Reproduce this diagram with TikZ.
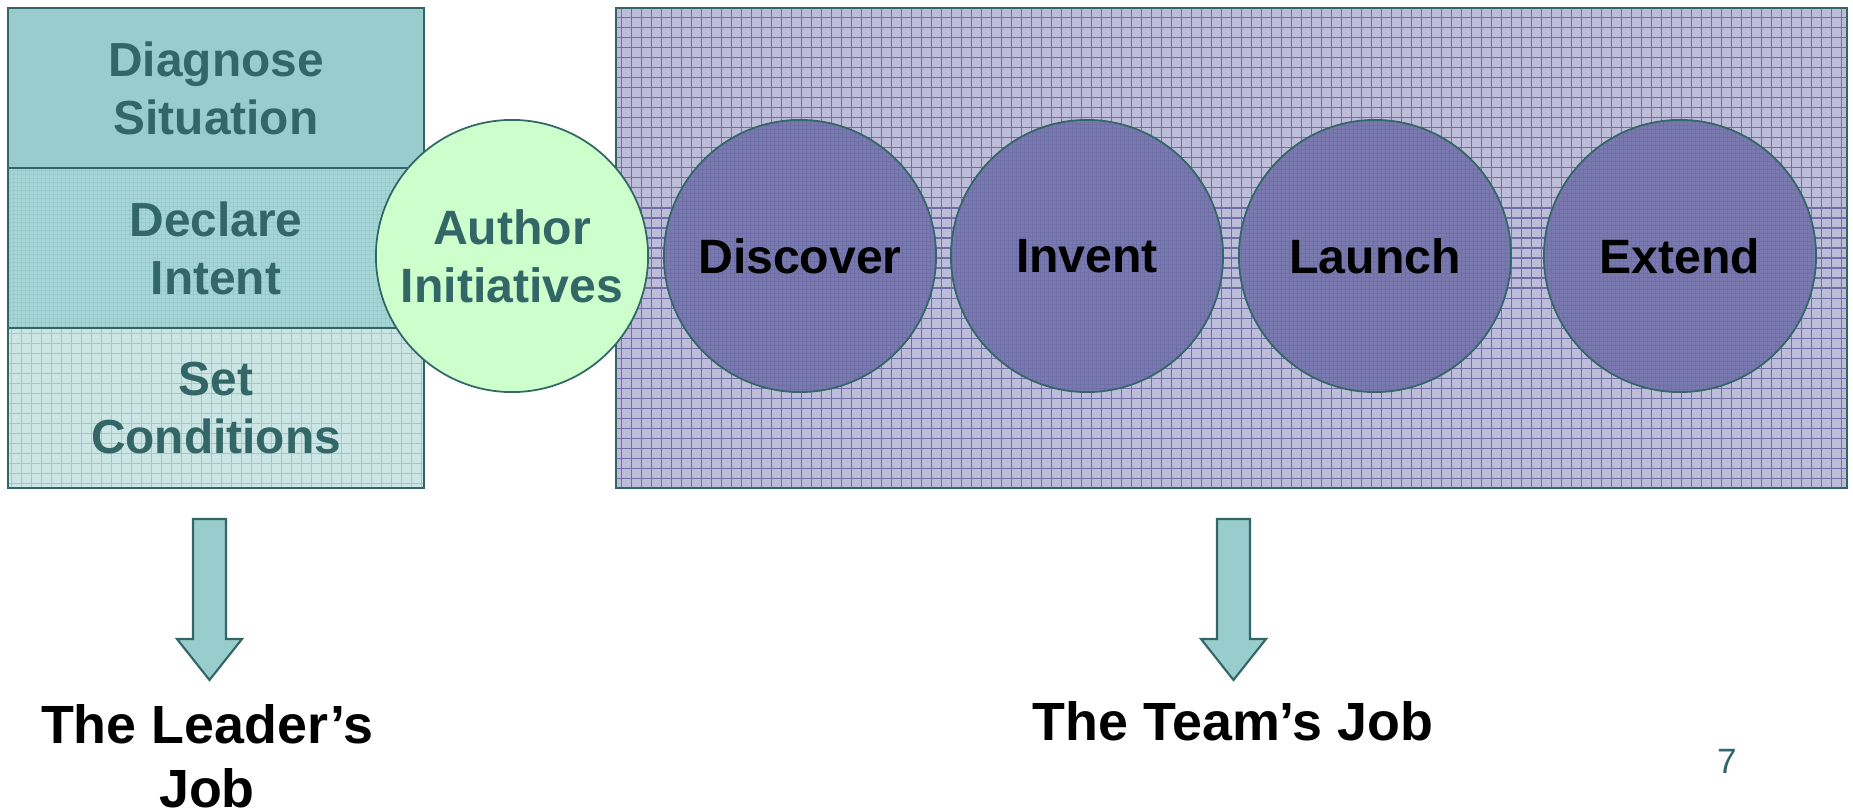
\documentclass[tikz,border=0pt]{standalone}
\usepackage{fontspec}
\setmainfont{Liberation Sans}
\usepackage{tikz}

\tikzset{
  gridfill/.style n args={2}{path picture={\draw[line width=0.3pt, #1, step=#2] (path picture bounding box.south west) grid (path picture bounding box.north east);}},
  leaderbox/.style={rectangle, draw=c0, line width=0.6pt, minimum width=4.16cm, minimum height=1.6cm, inner sep=0pt, text=c0, align=center, font=\bfseries\fontsize{13.6}{16.5}\selectfont},
  stagecircle/.style={circle, draw=c0, line width=0.5pt, minimum size=2.72cm, inner sep=0pt, align=center, font=\bfseries\fontsize{13.7}{16.5}\selectfont},
  jobtext/.style={align=center, font=\bfseries\fontsize{15.3}{18.2}\selectfont},
}

\begin{document}
\begin{tikzpicture}[x=0.01cm, y=-0.01cm]

\definecolor{c0}{rgb}{0.2, 0.4, 0.4}
\definecolor{c1}{rgb}{0.6, 0.8, 0.8}
\definecolor{c2}{rgb}{0.66, 0.84, 0.84}
\definecolor{c3}{rgb}{0.8, 0.9, 0.9}
\definecolor{c4}{rgb}{0.8, 1.0, 0.8}
\definecolor{c5}{rgb}{0.74, 0.74, 0.85}
\definecolor{c6}{rgb}{0.44, 0.44, 0.66}
\definecolor{c7}{rgb}{0.48, 0.48, 0.69}

\useasboundingbox (0,0) rectangle (1853,809);

\node[leaderbox, fill=c1] (diagnose) at (216,88) {Diagnose\\Situation};
\node[leaderbox, fill=c2, gridfill={c1}{0.04cm}] (declare) at (216,248) {Declare\\Intent};
\node[leaderbox, fill=c3, gridfill={c1}{0.1cm}] (conditions) at (216,408) {Set\\Conditions};

\node[rectangle, draw=c0, line width=0.6pt, minimum width=12.31cm, minimum height=4.8cm, inner sep=0pt, fill=c5, gridfill={c6}{0.1cm}] (teamarea) at (1231.5,248) {};

\node[stagecircle, fill=c4, text=c0] (author) at (512,256) {Author\\Initiatives};
\foreach \stage/\cx in {Discover/800, Invent/1087, Launch/1375, Extend/1680}
  \node[stagecircle, fill=c7, gridfill={c6}{0.04cm}] (\stage) at (\cx,256) {\stage};

\foreach \ax in {209.5, 1233.5}
  \filldraw[fill=c1, draw=c0, line width=0.6pt] (\ax-16.5,519) -- (\ax+16.5,519) -- (\ax+16.5,639) -- (\ax+32.5,639) -- (\ax,680) -- (\ax-32.5,639) -- (\ax-16.5,639) -- cycle;

\node[jobtext] (leaderjob) at (207,756) {The Leader’s\\Job};
\node[jobtext, anchor=base] (teamjob) at (1233,740) {The Team’s Job};
\node[anchor=base, text=c0, font=\fontsize{10}{12}\selectfont] (pagenum) at (1727,773) {7};

\end{tikzpicture}
\end{document}
